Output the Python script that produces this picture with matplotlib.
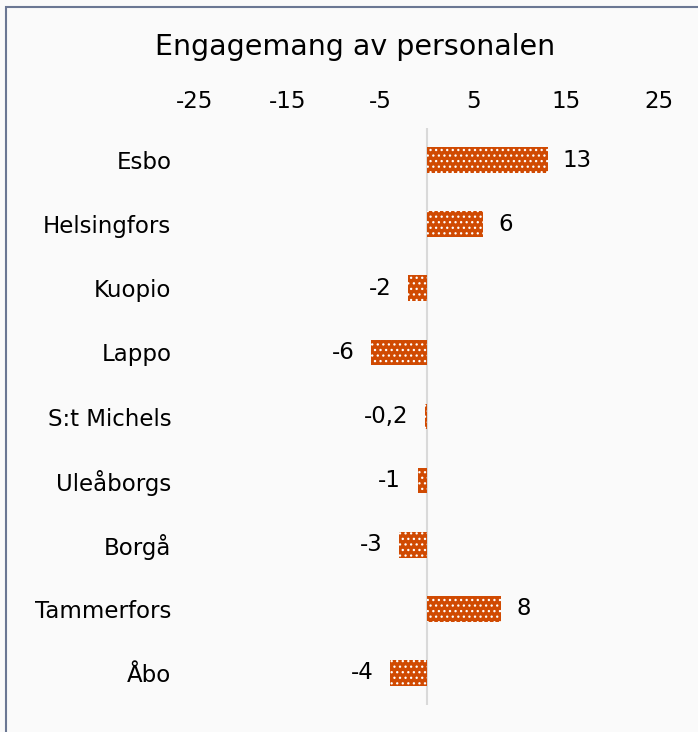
import matplotlib.pyplot as plt
from matplotlib.patches import Rectangle

cities = ['Esbo', 'Helsingfors', 'Kuopio', 'Lappo', 'S:t Michels',
          'Uleåborgs', 'Borgå', 'Tammerfors', 'Åbo']
values = [13, 6, -2, -6, -0.2, -1, -3, 8, -4]
ticks = [-25, -15, -5, 5, 15, 25]

plt.rcParams['font.family'] = 'DejaVu Sans'
plt.rcParams['axes.unicode_minus'] = False
plt.rcParams['hatch.linewidth'] = 0.9

fig = plt.figure(figsize=(6.98, 7.32), dpi=100, facecolor='#FAFAFA')
ax = fig.add_axes([195 / 698, 1 - 705 / 732, 464 / 698, 577 / 732])
ax.set_facecolor('#FAFAFA')

# outer frame of the chart area
fig.patches.append(Rectangle((6 / 698, -0.05), 1.1, 1 - 7 / 732 + 0.05,
                             transform=fig.transFigure, fill=False,
                             edgecolor='#6B7793', linewidth=1.5))

y = list(range(len(cities)))
ax.barh(y, values, height=0.4, color='#D04A02', edgecolor='white',
        linewidth=0, hatch='...')

for yi, v in zip(y, values):
    txt = f'{v:g}'.replace('.', ',')
    if v >= 0:
        ax.annotate(txt, (v, yi), xytext=(11, 0), textcoords='offset points',
                    ha='left', va='center', fontsize=16.5)
    else:
        ax.annotate(txt, (v, yi), xytext=(-12, 0), textcoords='offset points',
                    ha='right', va='center', fontsize=16.5)

ax.axvline(0, color='#D9D9D9', linewidth=1.5, zorder=0)

ax.set_xlim(-25, 25)
ax.set_ylim(len(cities) - 0.5, -0.5)
ax.set_xticks(ticks)
ax.set_yticks(y)
ax.set_yticklabels(cities)
ax.xaxis.tick_top()
ax.tick_params(axis='both', length=0, labelsize=16.5)
ax.tick_params(axis='x', pad=11)
ax.tick_params(axis='y', pad=17)
for s in ax.spines.values():
    s.set_visible(False)

fig.text(355 / 698, 1 - 47 / 732, 'Engagemang av personalen',
         ha='center', va='center', fontsize=20.5)

fig.savefig('out.png', dpi=100, facecolor=fig.get_facecolor())
